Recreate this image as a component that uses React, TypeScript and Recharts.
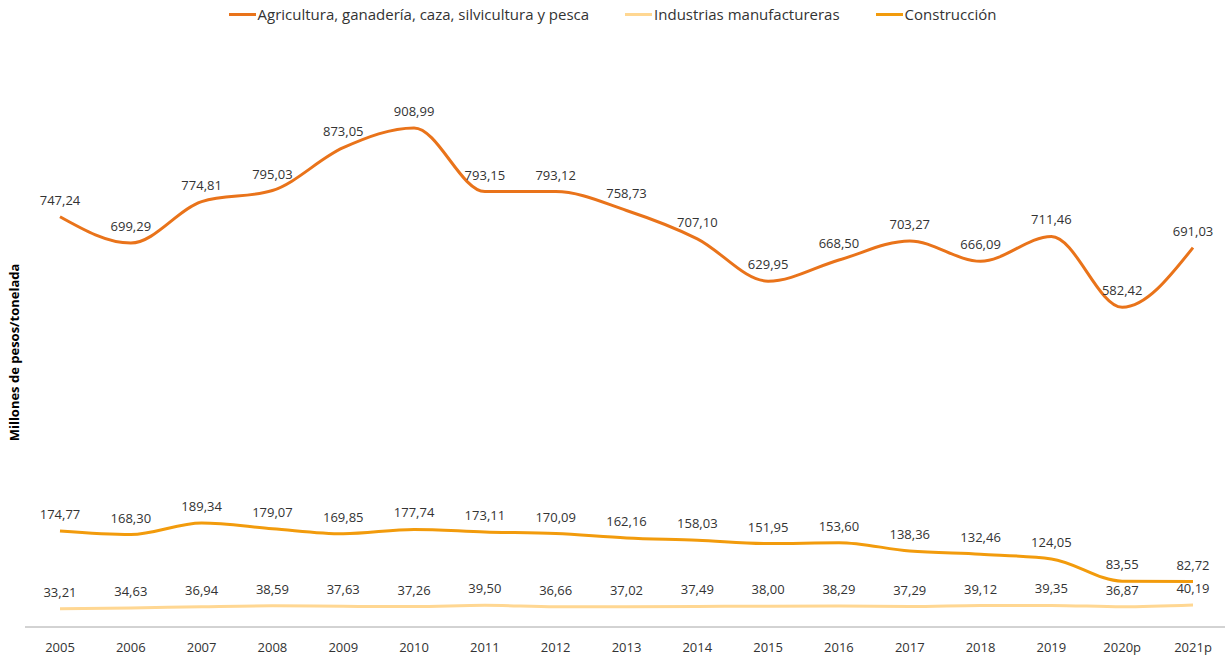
import { LineChart, Line, XAxis, YAxis, LabelList } from 'recharts';

const years = ['2005', '2006', '2007', '2008', '2009', '2010', '2011', '2012', '2013', '2014', '2015', '2016', '2017', '2018', '2019', '2020p', '2021p'];
const agricultura = [747.24, 699.29, 774.81, 795.03, 873.05, 908.99, 793.15, 793.12, 758.73, 707.1, 629.95, 668.5, 703.27, 666.09, 711.46, 582.42, 691.03];
const industrias = [33.21, 34.63, 36.94, 38.59, 37.63, 37.26, 39.5, 36.66, 37.02, 37.49, 38.0, 38.29, 37.29, 39.12, 39.35, 36.87, 40.19];
const construccion = [174.77, 168.3, 189.34, 179.07, 169.85, 177.74, 173.11, 170.09, 162.16, 158.03, 151.95, 153.6, 138.36, 132.46, 124.05, 83.55, 82.72];

const data = years.map((year, i) => ({
  year,
  agricultura: agricultura[i],
  industrias: industrias[i],
  construccion: construccion[i],
}));

const series = [
  { key: 'agricultura', name: 'Agricultura, ganadería, caza, silvicultura y pesca', color: '#E9731A' },
  { key: 'industrias', name: 'Industrias manufactureras', color: '#FFD792' },
  { key: 'construccion', name: 'Construcción', color: '#F29B0C' },
];

const FONT = '"Open Sans", "Noto Sans", sans-serif';
const fmt = (v: any) => Number(v).toFixed(2).replace('.', ',');

const Legend = () => (
  <div
    style={{
      position: 'absolute',
      top: 4,
      left: 0,
      width: 1225,
      display: 'flex',
      justifyContent: 'center',
      gap: 36,
      fontFamily: FONT,
      fontSize: 15,
      color: '#333',
    }}
  >
    {series.map(s => (
      <div key={s.key} style={{ display: 'flex', alignItems: 'center' }}>
        <span style={{ display: 'inline-block', width: 27, height: 3, background: s.color, marginRight: 2 }} />
        <span>{s.name}</span>
      </div>
    ))}
  </div>
);

export default function App() {
  return (
    <div style={{ position: 'absolute', left: 0, top: 0, width: 1225, height: 656, background: '#fff' }}>
      <Legend />
      <LineChart width={1225} height={656} data={data} margin={{ top: 78, right: 0, left: 0, bottom: 0 }}>
        <XAxis
          dataKey="year"
          axisLine={{ stroke: '#A6A6A6' }}
          tickLine={false}
          height={29}
          tickMargin={10}
          padding={{ left: 35, right: 32 }}
          tick={{ fill: '#333', fontSize: 13, fontFamily: FONT }}
        />
        <YAxis
          domain={[0, 1000]}
          width={25}
          tick={false}
          axisLine={false}
          tickLine={false}
          label={{
            value: 'Millones de pesos/tonelada',
            angle: -90,
            position: 'insideLeft',
            offset: 14,
            style: { textAnchor: 'middle', fontWeight: 700, fontSize: 13, fontFamily: FONT, fill: '#000' },
          }}
        />
        {series.map(s => (
          <Line
            key={s.key}
            type="monotone"
            dataKey={s.key}
            name={s.name}
            stroke={s.color}
            strokeWidth={3}
            dot={false}
            isAnimationActive={false}
          >
            <LabelList
              dataKey={s.key}
              position="top"
              offset={12}
              formatter={fmt}
              style={{ fill: '#333', fontSize: 13, fontFamily: FONT }}
            />
          </Line>
        ))}
      </LineChart>
    </div>
  );
}
